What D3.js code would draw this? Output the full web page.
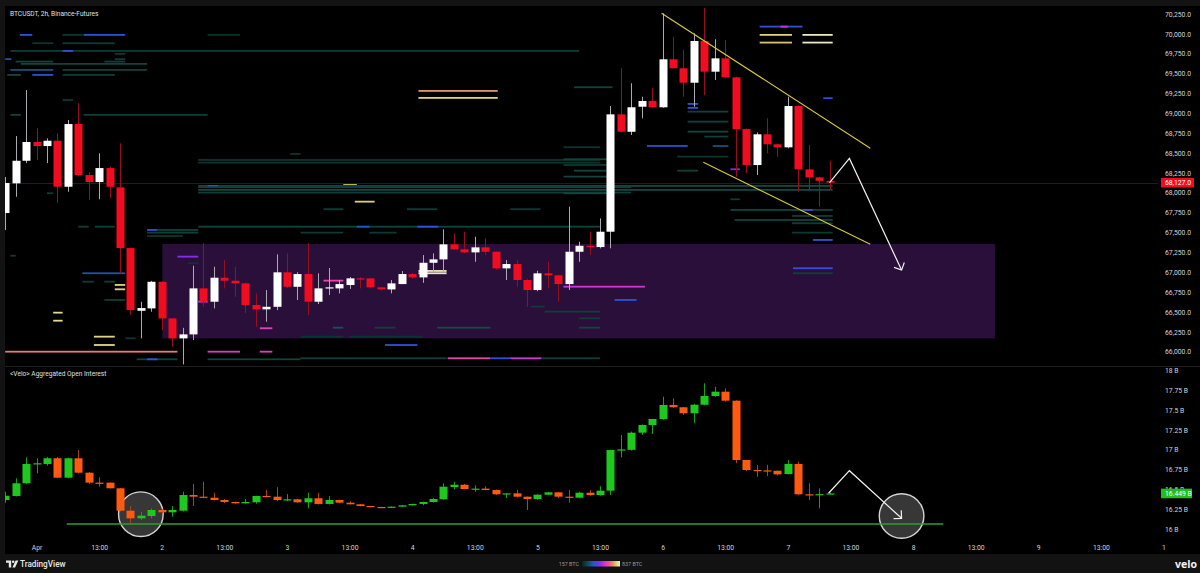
<!DOCTYPE html>
<html>
<head>
<meta charset="utf-8">
<script src="https://cdn.jsdelivr.net/npm/d3@7"></script>
<style>
  html, body { margin: 0; padding: 0; background: #000; }
  svg { display: block; }
</style>
</head>
<body>
<svg id="chart" width="1200" height="573"></svg>
<script>
// ---------- data ----------
// BTCUSDT 2h candles: [open, high, low, close]; bar 3 = Apr 1 01:00
const priceCandles = [
  [67745, 68198, 67531, 68123], [68119, 68714, 67950, 68403], [68403, 69293, 68374, 68639],
  [68639, 68815, 68412, 68588], [68588, 68685, 68374, 68655], [68655, 68752, 67871, 68076],
  [68076, 68916, 68013, 68865], [68865, 69126, 68210, 68223], [68223, 68260, 67909, 68135],
  [68135, 68497, 67918, 68311], [68311, 68330, 67934, 68076], [68068, 68622, 66986, 67304],
  [67304, 67310, 66461, 66524], [66515, 66629, 66168, 66549], [66545, 66890, 66503, 66880],
  [66880, 66890, 66272, 66419], [66419, 66420, 66062, 66168], [66168, 66300, 65840, 66218],
  [66218, 67082, 66146, 66797], [66797, 67364, 66566, 66629], [66629, 67069, 66545, 66931],
  [66931, 67153, 66797, 66893], [66893, 67069, 66691, 66860], [66860, 66870, 66486, 66587],
  [66587, 66734, 66314, 66533], [66533, 66776, 66377, 66565], [66565, 67225, 66524, 66999],
  [66999, 67238, 66800, 66817], [66817, 67000, 66650, 66977], [66977, 67364, 66461, 66629],
  [66629, 66986, 66600, 66797], [66797, 67053, 66713, 66810], [66797, 66902, 66734, 66851],
  [66839, 66940, 66790, 66923], [66923, 66940, 66797, 66920], [66923, 66930, 66800, 66810],
  [66810, 66815, 66770, 66784], [66784, 66902, 66734, 66860], [66851, 67015, 66851, 66977],
  [66977, 66990, 66920, 66935], [66935, 67216, 66867, 67119], [67119, 67238, 67000, 67162],
  [67162, 67540, 67006, 67351], [67351, 67489, 67280, 67288], [67288, 67510, 67238, 67250],
  [67250, 67447, 67132, 67313], [67313, 67427, 67216, 67258], [67258, 67260, 67030, 67049],
  [67049, 67153, 66902, 67103], [67103, 67153, 66817, 66902], [66902, 66920, 66566, 66776],
  [66776, 67019, 66760, 66986], [66986, 67132, 66797, 66961], [66961, 66970, 66629, 66851],
  [66851, 67824, 66776, 67258], [67258, 67384, 67132, 67333], [67333, 67510, 67216, 67317],
  [67317, 67678, 67300, 67510], [67510, 69092, 67301, 68987], [68987, 69567, 68760, 68768],
  [68768, 69378, 68727, 69076], [69083, 69209, 68937, 69155], [69155, 69315, 69070, 69076],
  [69076, 70259, 69070, 69680], [69680, 69964, 69560, 69567], [69567, 69797, 69209, 69385],
  [69385, 70007, 69083, 69910], [69910, 70325, 69230, 69524], [69524, 69932, 69419, 69692],
  [69692, 69923, 69440, 69453], [69453, 69460, 68202, 68802], [68802, 68810, 68245, 68349],
  [68349, 68760, 68223, 68736], [68736, 68937, 68497, 68610], [68610, 68620, 68454, 68572],
  [68572, 69209, 68560, 69092], [69092, 69100, 68013, 68295], [68295, 68601, 68026, 68194],
  [68194, 68200, 67824, 68150], [68150, 68403, 68034, 68127]
];

// Aggregated open interest, billions: [open, high, low, close]
const oiCandles = [
  [16.366, 16.471, 16.332, 16.420], [16.417, 16.640, 16.410, 16.577], [16.577, 16.905, 16.570, 16.821],
  [16.821, 16.893, 16.703, 16.830], [16.821, 16.910, 16.800, 16.893], [16.893, 16.910, 16.640, 16.648],
  [16.648, 16.900, 16.640, 16.893], [16.893, 16.997, 16.700, 16.711], [16.711, 16.720, 16.570, 16.585],
  [16.585, 16.653, 16.534, 16.580], [16.585, 16.590, 16.510, 16.514], [16.514, 16.520, 16.220, 16.231],
  [16.231, 16.290, 16.072, 16.135], [16.135, 16.218, 16.114, 16.168], [16.164, 16.260, 16.135, 16.240],
  [16.240, 16.250, 16.200, 16.211], [16.211, 16.290, 16.155, 16.240], [16.231, 16.471, 16.220, 16.429],
  [16.429, 16.568, 16.290, 16.408], [16.408, 16.597, 16.390, 16.395], [16.395, 16.458, 16.360, 16.366],
  [16.366, 16.380, 16.330, 16.341], [16.341, 16.345, 16.320, 16.324], [16.324, 16.380, 16.320, 16.341],
  [16.337, 16.420, 16.320, 16.417], [16.417, 16.492, 16.400, 16.408], [16.408, 16.527, 16.350, 16.366],
  [16.366, 16.440, 16.350, 16.375], [16.375, 16.380, 16.330, 16.337], [16.337, 16.458, 16.261, 16.388],
  [16.388, 16.458, 16.310, 16.316], [16.316, 16.417, 16.310, 16.366], [16.366, 16.370, 16.330, 16.332],
  [16.332, 16.350, 16.310, 16.312], [16.312, 16.315, 16.285, 16.290], [16.290, 16.292, 16.275, 16.278],
  [16.278, 16.280, 16.265, 16.269], [16.269, 16.285, 16.265, 16.282], [16.282, 16.302, 16.280, 16.299],
  [16.299, 16.320, 16.295, 16.316], [16.316, 16.345, 16.300, 16.341], [16.341, 16.390, 16.335, 16.379],
  [16.375, 16.577, 16.370, 16.534], [16.530, 16.597, 16.500, 16.559], [16.559, 16.570, 16.500, 16.505],
  [16.505, 16.550, 16.470, 16.510], [16.510, 16.540, 16.490, 16.492], [16.492, 16.500, 16.430, 16.438],
  [16.438, 16.450, 16.390, 16.450], [16.450, 16.492, 16.400, 16.408], [16.408, 16.410, 16.240, 16.379],
  [16.379, 16.440, 16.370, 16.433], [16.433, 16.470, 16.430, 16.463], [16.463, 16.470, 16.390, 16.408],
  [16.408, 16.492, 16.332, 16.395], [16.395, 16.470, 16.390, 16.458], [16.458, 16.490, 16.420, 16.429],
  [16.429, 16.540, 16.420, 16.484], [16.484, 17.000, 16.430, 16.997], [16.997, 17.187, 16.905, 17.005],
  [17.000, 17.230, 16.990, 17.216], [17.216, 17.320, 17.190, 17.313], [17.313, 17.390, 17.200, 17.389],
  [17.389, 17.670, 17.380, 17.566], [17.566, 17.650, 17.530, 17.537], [17.537, 17.540, 17.440, 17.461],
  [17.461, 17.580, 17.335, 17.569], [17.569, 17.840, 17.560, 17.679], [17.679, 17.797, 17.670, 17.734],
  [17.734, 17.776, 17.610, 17.620], [17.620, 17.625, 16.830, 16.871], [16.871, 16.875, 16.730, 16.745],
  [16.745, 16.808, 16.660, 16.740], [16.740, 16.810, 16.670, 16.735], [16.735, 16.740, 16.680, 16.690],
  [16.694, 16.871, 16.690, 16.821], [16.821, 16.850, 16.430, 16.438], [16.438, 16.577, 16.366, 16.433],
  [16.433, 16.514, 16.261, 16.440], [16.440, 16.460, 16.440, 16.449]
];

const timeLabels = ["Apr", "13:00", "2", "13:00", "3", "13:00", "4", "13:00", "5", "13:00",
                    "6", "13:00", "7", "13:00", "8", "13:00", "9", "13:00", "1"];
const priceTicks = [66000, 66250, 66500, 66750, 67000, 67250, 67500, 67750, 68000,
                    68250, 68500, 68750, 69000, 69250, 69500, 69750, 70000, 70250];
const oiTicks = [16, 16.25, 16.5, 16.75, 17, 17.25, 17.5, 17.75, 18];
const lastPrice = 68127;
const lastOI = 16.449;

// order book liquidity levels: [fromBar, toBar, price, size in BTC]
const liquidityLevels = [
  [1.4, 2.6, 69986, 380], [5.5, 7.4, 69986, 210], [7.5, 11.5, 69986, 360], [19.4, 22.5, 69986, 190],
  [2.6, 4.6, 69881, 200], [5.5, 10.5, 69881, 215],
  [0.5, 55, 69784, 215], [5.5, 6.5, 69784, 390], [10.5, 11.5, 69746, 205],
  [0, 0.6, 69680, 330], [10.5, 11.5, 69680, 220], [1, 4.6, 69650, 240], [9.5, 11.5, 69650, 225],
  [1.5, 13.6, 69621, 240], [0.5, 4.6, 69545, 300], [5.5, 13.6, 69545, 230],
  [0.2, 1.5, 69482, 250], [2.6, 4.6, 69482, 350], [5.5, 10.5, 69482, 220],
  [39.6, 47.2, 69281, 715], [39.6, 47.2, 69193, 775],
  [5.5, 6.5, 69167, 205], [0.5, 1.5, 68979, 230], [7.5, 19.4, 68979, 220],
  [18.5, 57, 68412, 200], [18.5, 57, 68378, 195], [27.3, 28.3, 68488, 200],
  [32.4, 33.7, 68110, 770], [33.5, 35.4, 67887, 770],
  [18.5, 79.3, 68085, 255], [19.4, 20.4, 68085, 380], [18.5, 60, 68069, 230],
  [18.5, 79.3, 68035, 250], [18.5, 60, 68001, 225], [4, 4.6, 67993, 220],
  [30.5, 32.4, 67792, 220], [38.5, 41.4, 67792, 220], [48.4, 51.3, 67792, 210],
  [7, 8, 67572, 220], [8.6, 10.5, 67572, 230], [18.5, 57, 67572, 240],
  [33.7, 34.9, 67572, 350], [39.5, 41.5, 67572, 380],
  [13.6, 14.6, 67531, 380], [14.6, 18.5, 67531, 240], [13.6, 18.5, 67497, 230],
  [28.3, 32.4, 67497, 210], [34.9, 37.5, 67497, 210], [13.6, 17, 67455, 200],
  [0.5, 1, 67207, 220], [16.5, 18.5, 67195, 480], [17.5, 18.5, 67112, 200],
  [7.4, 11.5, 66986, 330], [39.6, 42.3, 67015, 825], [39.6, 42.3, 66986, 830],
  [7.4, 8.5, 66880, 220], [9.5, 10.5, 66880, 220], [30.5, 32.4, 66893, 620],
  [10.5, 11.5, 66839, 780], [10.5, 11.5, 66784, 780], [53.5, 61.3, 66817, 560],
  [9.5, 11.5, 66650, 220], [58.4, 60.5, 66650, 360], [18.5, 19.4, 66629, 590],
  [50.4, 51.7, 66566, 220], [51.7, 57, 66503, 225], [55, 57, 66419, 220],
  [4.6, 5.5, 66490, 790], [4.6, 5.5, 66389, 790],
  [31.4, 32.4, 66301, 280], [35.4, 37.4, 66301, 230], [41.4, 46.5, 66301, 260], [55, 57, 66301, 240],
  [24.4, 25.6, 66294, 600], [28.3, 32.4, 66188, 200], [33, 40, 66188, 200],
  [8.5, 10.5, 66188, 785], [8.5, 10.5, 66083, 785], [11.5, 12.5, 66168, 200],
  [36.4, 39.5, 66083, 360],
  [0, 16.5, 65999, 690], [19.4, 22.5, 65999, 590], [24.4, 25.6, 65999, 590],
  [12.6, 16.5, 65903, 240], [13.6, 14.6, 65903, 400], [19.4, 28.3, 65903, 240],
  [28.3, 42.3, 65916, 230], [42.4, 46.5, 65916, 620], [46.5, 48.4, 65916, 380],
  [48.4, 51.4, 65916, 560], [51.4, 57, 65916, 230],
  [72.3, 76.4, 70090, 380], [74.3, 75, 70090, 560],
  [72.3, 75.4, 69986, 775], [76.4, 79.3, 69986, 825],
  [72.3, 75.4, 69889, 755], [76.4, 79.3, 69889, 825],
  [54.5, 58.2, 69327, 240], [78.4, 79.3, 69189, 380],
  [65.4, 66.4, 69117, 380], [65.4, 66.4, 69067, 380],
  [65.4, 69.3, 69020, 230], [65.4, 69.3, 68894, 230], [65.4, 69.3, 68768, 240], [67, 69.3, 68706, 230],
  [61.5, 65.4, 68588, 350], [67.8, 69.3, 68588, 300], [53.5, 57, 68572, 200], [64.4, 69.3, 68454, 200],
  [53.5, 57.8, 68421, 240], [53.5, 57.8, 68349, 210], [54.5, 57.8, 68277, 240], [64.4, 66.4, 68277, 230],
  [53.5, 58.2, 68202, 240], [69.5, 70.4, 68295, 470], [53.5, 57.8, 67993, 240], [69.5, 70.4, 67917, 220],
  [69.5, 79.3, 67783, 240], [76.4, 77.4, 67783, 380], [69.9, 79.3, 67657, 240],
  [75.4, 79.3, 67707, 220], [75.4, 79.3, 67615, 220], [75.4, 79.3, 67497, 210],
  [77.4, 79.3, 67405, 380], [75.5, 79.3, 67049, 380], [75.5, 79.3, 66986, 230]
];
const heatRange = [157, 837];

// drawings: accumulation zone [fromBar, toBar, topPrice, bottomPrice]
const zone = [15.06, 94.85, 67355, 66168];
const channelUpper = [[62.9, 70259], [82.9, 68561]];
const channelLower = [[66.9, 68383], [82.9, 67352]];
const priceArrow = [[79.0, 68127], [80.9, 68433], [85.9, 67027]];
const oiArrow = [[78.9, 16.451], [80.9, 16.736], [85.9, 16.135]];
const oiCircles = [[13.0, 16.187], [85.9, 16.164]];
const oiSupport = [5.9, 89.9, 16.063];

// ---------- layout ----------
const svg = d3.select("#chart");
const FONT = "Roboto, 'Liberation Sans', sans-serif";
const paneLeft = 5, paneRight = 1158;
const priceTop = 6, priceBottom = 366, oiBottom = 540;

const x = d3.scaleLinear().domain([3, 111]).range([36.5, 1163.5]);
const yP = d3.scaleLinear().domain([66000, 70250]).range([351.7, 14]);
const yO = d3.scaleLinear().domain([16, 18]).range([529, 370.6]);
const bodyW = 8;

const heatColor = d3.scaleLinear()
  .domain([157, 260, 360, 470, 560, 640, 710, 770, 837])
  .range(["#072520", "#124c44", "#2456d8", "#7a2ee8", "#cf34d6", "#ee4f98", "#e08f6c", "#ddd070", "#f0ecd8"])
  .clamp(true);

// background frame
svg.append("rect").attr("width", 1200).attr("height", 573).attr("fill", "#131313");
svg.append("rect").attr("x", paneLeft).attr("y", priceTop).attr("width", 1200 - paneLeft).attr("height", 554 - priceTop).attr("fill", "#000");

const defs = svg.append("defs");
defs.append("clipPath").attr("id", "clipPrice").append("rect")
  .attr("x", paneLeft).attr("y", priceTop).attr("width", paneRight - paneLeft).attr("height", priceBottom - priceTop);
defs.append("clipPath").attr("id", "clipOI").append("rect")
  .attr("x", paneLeft).attr("y", priceBottom + 1).attr("width", paneRight - paneLeft).attr("height", oiBottom - priceBottom - 1);

// pane separators
svg.append("line").attr("x1", paneLeft).attr("x2", 1200).attr("y1", priceBottom + 0.5).attr("y2", priceBottom + 0.5)
  .attr("stroke", "#1f1f1f");

// ---------- price pane ----------
const gP = svg.append("g").attr("clip-path", "url(#clipPrice)");

gP.append("rect")
  .attr("x", x(zone[0])).attr("width", x(zone[1]) - x(zone[0]))
  .attr("y", yP(zone[2])).attr("height", yP(zone[3]) - yP(zone[2]))
  .attr("fill", "#2b0f3b");

gP.selectAll("rect.liq").data(liquidityLevels).join("rect").attr("class", "liq")
  .attr("x", d => x(d[0])).attr("width", d => x(d[1]) - x(d[0]))
  .attr("y", d => yP(d[2]) - 1).attr("height", 1.8)
  .attr("fill", d => heatColor(d[3]));

// last price line
gP.append("line").attr("x1", paneLeft).attr("x2", paneRight)
  .attr("y1", Math.round(yP(lastPrice)) + 0.5).attr("y2", Math.round(yP(lastPrice)) + 0.5)
  .attr("stroke", "#4a0a10").attr("stroke-width", 1);

const pc = gP.selectAll("g.pc").data(priceCandles).join("g").attr("class", "pc");
pc.append("line")
  .attr("x1", (d, i) => Math.round(x(i)) + 0.5).attr("x2", (d, i) => Math.round(x(i)) + 0.5)
  .attr("y1", d => yP(d[1])).attr("y2", d => yP(d[2]))
  .attr("stroke", d => d[3] >= d[0] ? "#a9abb0" : "#96101c").attr("stroke-width", 1);
pc.append("rect")
  .attr("x", (d, i) => Math.round(x(i)) + 0.5 - bodyW / 2).attr("width", bodyW)
  .attr("y", d => yP(Math.max(d[0], d[3])))
  .attr("height", d => Math.max(1.2, Math.abs(yP(d[0]) - yP(d[3]))))
  .attr("fill", d => d[3] >= d[0] ? "#ffffff" : "#f20c1f");

const line = d3.line();
const yellow = "#d8c83a";
[channelUpper, channelLower].forEach(seg => {
  gP.append("path").attr("d", line(seg.map(p => [x(p[0]), yP(p[1])])))
    .attr("stroke", yellow).attr("stroke-width", 1.1).attr("fill", "none");
});

function drawArrow(g, pts) {
  g.append("path").attr("d", line(pts)).attr("stroke", "#f2f2f2").attr("stroke-width", 1.2).attr("fill", "none");
  const [a, b] = pts.slice(-2);
  const ang = Math.atan2(a[1] - b[1], a[0] - b[0]);
  const len = 8, spread = Math.PI / 4;
  const head = [[b[0] + len * Math.cos(ang + spread), b[1] + len * Math.sin(ang + spread)], b,
                [b[0] + len * Math.cos(ang - spread), b[1] + len * Math.sin(ang - spread)]];
  g.append("path").attr("d", line(head)).attr("stroke", "#f2f2f2").attr("stroke-width", 1.2).attr("fill", "none");
}
drawArrow(gP, priceArrow.map(p => [x(p[0]), yP(p[1])]));

svg.append("text").attr("x", 10).attr("y", 16.3).text("BTCUSDT, 2h, Binance-Futures")
  .attr("fill", "#dfe1e6").style("font-family", FONT).style("font-size", "6.6px");

// ---------- open interest pane ----------
const gO = svg.append("g").attr("clip-path", "url(#clipOI)");

gO.selectAll("circle.mark").data(oiCircles).join("circle").attr("class", "mark")
  .attr("cx", d => x(d[0])).attr("cy", d => yO(d[1])).attr("r", 22.3)
  .attr("fill", "rgba(110,110,110,0.5)").attr("stroke", "#d4d4d4").attr("stroke-width", 1.4);

gO.append("line")
  .attr("x1", x(oiSupport[0])).attr("x2", x(oiSupport[1]))
  .attr("y1", yO(oiSupport[2])).attr("y2", yO(oiSupport[2]))
  .attr("stroke", "#2f9e2f").attr("stroke-width", 1.4);

const oc = gO.selectAll("g.oc").data(oiCandles).join("g").attr("class", "oc");
oc.append("line")
  .attr("x1", (d, i) => Math.round(x(i)) + 0.5).attr("x2", (d, i) => Math.round(x(i)) + 0.5)
  .attr("y1", d => yO(d[1])).attr("y2", d => yO(d[2]))
  .attr("stroke", d => d[3] >= d[0] ? "#1a9e1a" : "#a8451a").attr("stroke-width", 1);
oc.append("rect")
  .attr("x", (d, i) => Math.round(x(i)) + 0.5 - bodyW / 2).attr("width", bodyW)
  .attr("y", d => yO(Math.max(d[0], d[3])))
  .attr("height", d => Math.max(1.2, Math.abs(yO(d[0]) - yO(d[3]))))
  .attr("fill", d => d[3] >= d[0] ? "#1fc81f" : "#ff5a10");

drawArrow(gO, oiArrow.map(p => [x(p[0]), yO(p[1])]));

svg.append("text").attr("x", 10).attr("y", 376.3).text("<Velo> Aggregated Open Interest")
  .attr("fill", "#dfe1e6").style("font-family", FONT).style("font-size", "6.6px");

// ---------- axes ----------
function styleAxis(g) {
  g.select(".domain").remove();
  g.selectAll("text").attr("fill", "#d1d4dc").style("font-family", FONT).style("font-size", "6.8px");
}

const axP = svg.append("g").attr("transform", "translate(1165,0)")
  .call(d3.axisRight(yP).tickValues(priceTicks).tickSize(0).tickPadding(0).tickFormat(d3.format(",.1f")));
styleAxis(axP);

const axO = svg.append("g").attr("transform", "translate(1165,0)")
  .call(d3.axisRight(yO).tickValues(oiTicks).tickSize(0).tickPadding(0).tickFormat(d => (+d.toFixed(2)) + " B"));
styleAxis(axO);

const axT = svg.append("g").attr("transform", "translate(0,545.5)")
  .call(d3.axisBottom(x).tickValues(d3.range(3, 112, 6)).tickSize(0).tickPadding(0).tickFormat((d, i) => timeLabels[i]));
styleAxis(axT);

// last value tags
const tagP = yP(lastPrice);
svg.append("rect").attr("x", 1161).attr("y", tagP - 4.8).attr("width", 33).attr("height", 9.6).attr("fill", "#f20c1f");
svg.append("text").attr("x", 1165).attr("y", tagP).attr("dy", "0.34em").text(d3.format(",.1f")(lastPrice))
  .attr("fill", "#fff").style("font-family", FONT).style("font-size", "6.8px");

const tagO = yO(lastOI);
svg.append("rect").attr("x", 1161).attr("y", tagO - 4.8).attr("width", 31).attr("height", 9.6).attr("fill", "#1fbf1f");
svg.append("text").attr("x", 1165).attr("y", tagO).attr("dy", "0.34em").text(lastOI.toFixed(3) + " B")
  .attr("fill", "#fff").style("font-family", FONT).style("font-size", "6.8px");

// ---------- footer ----------
svg.append("rect").attr("x", 0).attr("y", 554).attr("width", 1200).attr("height", 19).attr("fill", "#121212");

const logo = svg.append("g").attr("transform", "translate(6,560.5)").attr("fill", "#e8e8e8");
logo.append("path").attr("d", "M0,0 H5.2 V7 H2.8 V2.3 H0 Z");
logo.append("circle").attr("cx", 7.2).attr("cy", 1.3).attr("r", 1.25);
logo.append("path").attr("d", "M9.6,0 H12.3 L9.1,7 H6.4 Z");
svg.append("text").attr("x", 20).attr("y", 566.8).text("TradingView")
  .attr("fill", "#e8e8e8").style("font-family", FONT).style("font-size", "8.2px").style("font-weight", 500);

const grad = defs.append("linearGradient").attr("id", "heatGrad");
d3.range(0, 1.0001, 0.1).forEach(t => {
  grad.append("stop").attr("offset", t).attr("stop-color", heatColor(heatRange[0] + t * (heatRange[1] - heatRange[0])));
});
svg.append("text").attr("x", 579).attr("y", 565.8).attr("text-anchor", "end").text(heatRange[0] + " BTC")
  .attr("fill", "#9a9a9a").style("font-family", FONT).style("font-size", "5.4px");
svg.append("rect").attr("x", 582).attr("y", 561).attr("width", 38).attr("height", 5.5).attr("fill", "url(#heatGrad)");
svg.append("text").attr("x", 622).attr("y", 565.8).text(heatRange[1] + " BTC")
  .attr("fill", "#9a9a9a").style("font-family", FONT).style("font-size", "5.4px");

svg.append("text").attr("x", 1197).attr("y", 567.5).attr("text-anchor", "end").text("velo")
  .attr("fill", "#f2f2f2").style("font-family", "'Open Sans', sans-serif").style("font-size", "10.5px").style("font-weight", 700);
</script>
</body>
</html>
